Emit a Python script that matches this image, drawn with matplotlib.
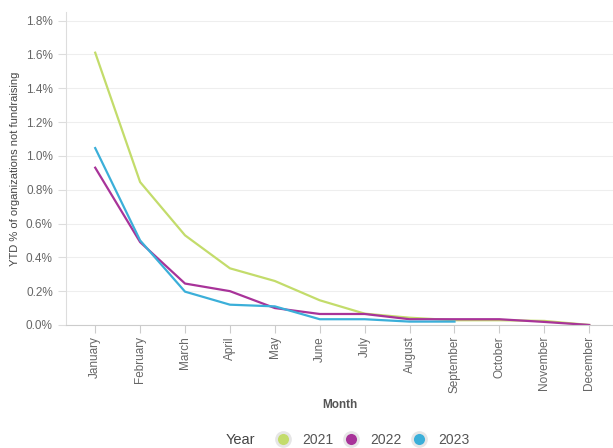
import matplotlib
matplotlib.use("Agg")
import matplotlib.pyplot as plt
from matplotlib.lines import Line2D
from matplotlib.ticker import FuncFormatter

months = ["January", "February", "March", "April", "May", "June", "July",
          "August", "September", "October", "November", "December"]
years = ["2021", "2022", "2023"]
v2021 = [1.61, 0.845, 0.53, 0.335, 0.26, 0.146, 0.067, 0.043, 0.028, 0.028, 0.024, 0.0]
v2022 = [0.93, 0.49, 0.245, 0.20, 0.10, 0.065, 0.065, 0.034, 0.034, 0.034, 0.018, 0.0]
v2023 = [1.046, 0.50, 0.197, 0.12, 0.11, 0.034, 0.034, 0.02, 0.02]
colors = ["#c3dc6b", "#a83399", "#3bafd9"]
yticks = [0.0, 0.2, 0.4, 0.6, 0.8, 1.0, 1.2, 1.4, 1.6, 1.8]

plt.rcParams['font.family'] = ['Liberation Sans', 'DejaVu Sans']
fig = plt.figure(figsize=(6.13, 4.48), dpi=100)
ax = fig.add_axes([0.1077, 0.2746, 0.8923, 0.6984])

series = [v2021, v2022, v2023]
for vals, c in zip(series, colors):
    ax.plot(range(len(vals)), vals, color=c, lw=1.6, solid_joinstyle='round')

ax.set_xlim(-0.65, 11.53)
ax.set_ylim(0, 1.85)
ax.set_xticks(range(len(months)))
ax.set_xticklabels(months, rotation=90, fontsize=8.5, color='#666666')
ax.set_yticks(yticks)
ax.yaxis.set_major_formatter(FuncFormatter(lambda v, p: f"{v:.1f}%"))
ax.tick_params(axis='y', labelsize=8.5, colors='#666666', length=6, color='#dddddd')
ax.tick_params(axis='x', length=6, color='#cccccc', pad=2)
ax.grid(axis='y', color='#eeeeee', lw=0.8)
ax.set_axisbelow(True)
for s in ['top', 'right']:
    ax.spines[s].set_visible(False)
ax.spines['left'].set_color('#dddddd')
ax.spines['bottom'].set_color('#cccccc')
ax.set_ylabel("YTD % of organizations not fundraising", fontsize=8, color='#444444', labelpad=4)
ax.set_xlabel("Month", fontsize=8.5, color='#555555', fontweight='bold', labelpad=4)

handles = [Line2D([], [], ls='none', marker='o', markersize=10, markerfacecolor=c,
                  markeredgecolor='#e6e6e6', markeredgewidth=2) for c in colors]
fig.text(0.417, 0.018, "Year", fontsize=10.5, color='#444444', ha='right', va='center')
fig.legend(handles, years, loc='center left', bbox_to_anchor=(0.439, 0.018), ncol=3,
           frameon=False, fontsize=10, labelcolor='#555555', handletextpad=0.4,
           columnspacing=0.25, borderpad=0.0, borderaxespad=0.0)

fig.savefig("out.png", dpi=100)
